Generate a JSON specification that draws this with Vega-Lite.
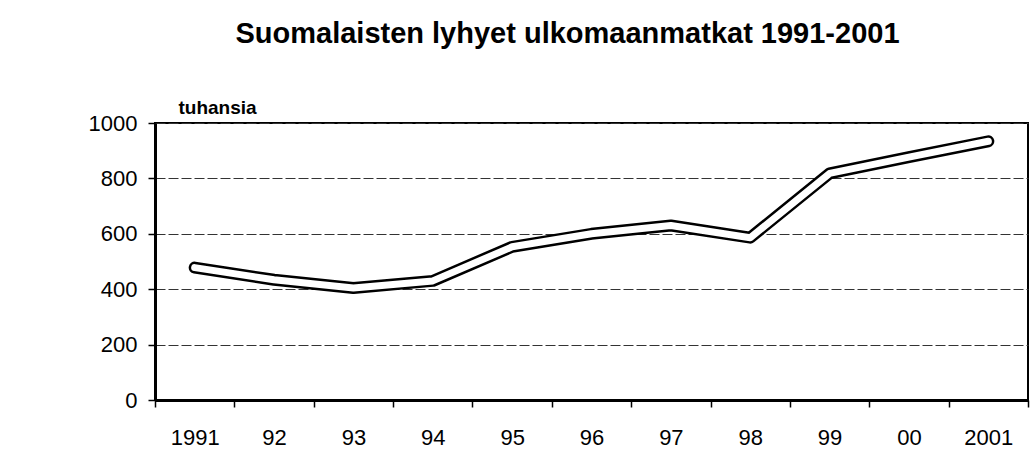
{
  "$schema": "https://vega.github.io/schema/vega-lite/v6.json",
  "autosize": {"type": "none"},
  "padding": {"left": 155, "top": 123, "right": 7, "bottom": 71},
  "width": 873,
  "height": 277,
  "background": "white",
  "title": {
    "text": "Suomalaisten lyhyet ulkomaanmatkat 1991-2001",
    "font": "Liberation Sans",
    "fontSize": 29,
    "fontWeight": "bold",
    "color": "black",
    "anchor": "middle",
    "frame": "group",
    "baseline": "alphabetic",
    "offset": 26,
    "dx": -24
  },
  "data": {
    "values": [
      {"year": "1991", "value": 478},
      {"year": "92", "value": 434},
      {"year": "93", "value": 404},
      {"year": "94", "value": 430},
      {"year": "95", "value": 553},
      {"year": "96", "value": 600},
      {"year": "97", "value": 630},
      {"year": "98", "value": 586},
      {"year": "99", "value": 818},
      {"year": "00", "value": 877},
      {"year": "2001", "value": 934}
    ]
  },
  "encoding": {
    "x": {
      "field": "year",
      "type": "ordinal",
      "sort": null,
      "scale": {"paddingInner": 0, "paddingOuter": 0},
      "axis": {
        "title": null,
        "labelAngle": 0,
        "tickBand": "extent",
        "tickSize": 7,
        "tickColor": "black",
        "tickWidth": 1.5,
        "domainColor": "black",
        "domainWidth": 3,
        "labelFont": "Liberation Sans",
        "labelFontSize": 22,
        "labelColor": "black",
        "labelBaseline": "alphabetic",
        "labelPadding": 37,
        "grid": false
      }
    },
    "y": {
      "field": "value",
      "type": "quantitative",
      "scale": {"domain": [0, 1000], "nice": false},
      "axis": {
        "values": [0, 200, 400, 600, 800, 1000],
        "format": "d",
        "title": "tuhansia",
        "titleAngle": 0,
        "titleAlign": "left",
        "titleBaseline": "alphabetic",
        "titleX": 23,
        "titleY": -10,
        "titleFont": "Liberation Sans",
        "titleFontSize": 19,
        "titleFontWeight": "bold",
        "titleColor": "black",
        "tickSize": 7,
        "tickColor": "black",
        "tickWidth": 1.5,
        "domainColor": "black",
        "domainWidth": 3,
        "labelFont": "Liberation Sans",
        "labelFontSize": 22,
        "labelColor": "black",
        "labelPadding": 11,
        "grid": true,
        "gridColor": "#333333",
        "gridWidth": 1,
        "gridDash": [10, 3]
      }
    }
  },
  "layer": [
    {
      "mark": {"type": "line", "color": "black", "strokeWidth": 12, "strokeCap": "round", "strokeJoin": "round"}
    },
    {
      "mark": {"type": "line", "color": "white", "strokeWidth": 7, "strokeCap": "round", "strokeJoin": "round"}
    }
  ],
  "config": {
    "view": {"stroke": "black", "strokeWidth": 2}
  }
}
